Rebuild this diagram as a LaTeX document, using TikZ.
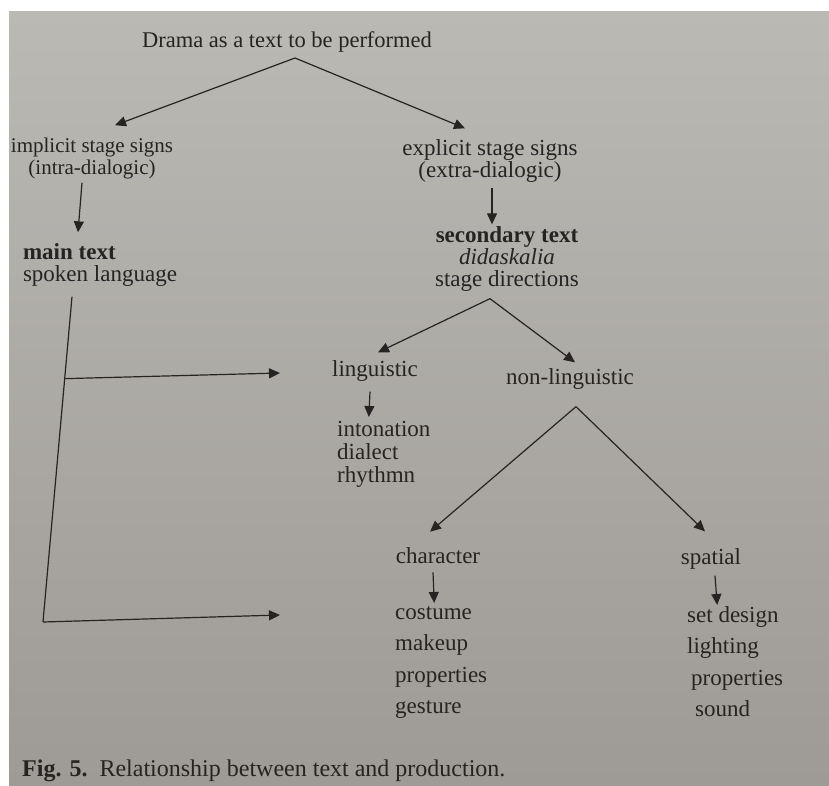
\documentclass[tikz,border=0pt]{standalone}
\usepackage{fontspec}
\setmainfont{Liberation Serif}
\usetikzlibrary{arrows.meta,positioning,calc}
\definecolor{inkcolor}{RGB}{38,36,34}
\definecolor{pagetop}{RGB}{186,185,180}
\definecolor{pagebot}{RGB}{158,154,150}
\tikzset{
  txt/.style={font=\fontsize{23}{22}\selectfont, text=inkcolor, inner sep=0pt},
  txtlist/.style={txt, align=left, anchor=north west, font=\fontsize{23}{31.5}\selectfont},
  arrln/.style={-{Triangle[length=11pt,width=10pt]}, line width=1.2pt, draw=inkcolor},
  plainln/.style={line width=1.2pt, draw=inkcolor},
}

\begin{document}
\begin{tikzpicture}[x=1pt, y=-1pt]
    % page of the photo
    \useasboundingbox (0,0) rectangle (829,786);
    \fill[white] (0,0) rectangle (829,786);
    \shade[top color=pagetop, bottom color=pagebot] (9,12) rectangle (829,786);

    \node[txt, font=\fontsize{22.5}{22}\selectfont] (drama) at (287,42) {Drama as a text to be performed};
    \coordinate (split1) at (295,58);

    \node[txt, align=center, font=\fontsize{21}{22}\selectfont] (impl) at (92,158) {implicit stage signs\\(intra-dialogic)};
    \node[txt, align=center] (expl) at (490,161) {explicit stage signs\\(extra-dialogic)};
    \draw[arrln] (split1) -- ([xshift=23pt,yshift=12pt]impl.north);
    \draw[arrln] (split1) -- ([xshift=-25pt,yshift=11pt]expl.north);

    \node[txt, align=left] (main) at (100,265) {\textbf{main text}\\spoken language};
    \node[txt, align=center] (sec) at (507,259) {\textbf{secondary text}\\\textit{didaskalia}\\stage directions};
    \draw[arrln] ([xshift=-10pt,yshift=-4pt]impl.south) -- ([xshift=-22pt,yshift=11pt]main.north);
    \draw[arrln] ([xshift=2pt,yshift=-5pt]expl.south) -- ([xshift=-15pt,yshift=2pt]sec.north);

    % stem from the main text
    \coordinate (stem) at ([xshift=-28pt,yshift=-10pt]main.south);
    \coordinate (foot) at (43,622);
    \coordinate (fork) at ($(stem)!0.252!(foot)$);
    \coordinate (ling-in) at (280,373);
    \coordinate (char-in) at (280,615);
    \draw[plainln] (stem) -- (foot);
    \draw[arrln] (fork) -- (ling-in);
    \draw[arrln] (foot) -- (char-in);

    \coordinate (split2) at ([xshift=-17pt,yshift=-7pt]sec.south);
    \node[txt] (ling) at (375,371) {linguistic};
    \node[txt] (nonling) at (570,379) {non-linguistic};
    \draw[arrln] (split2) -- ([xshift=3pt,yshift=8pt]ling.north);
    \draw[arrln] (split2) -- ([xshift=5pt,yshift=6pt]nonling.north);

    \node[txtlist, font=\fontsize{23}{23}\selectfont] (linglist) at (337,421) {intonation\\dialect\\rhythmn};
    \draw[arrln] ([xshift=-5pt,yshift=-10pt]ling.south) -- ([xshift=-15pt,yshift=4pt]linglist.north);

    \coordinate (split3) at ([xshift=6pt,yshift=-17pt]nonling.south);
    \node[txt] (char) at (438,556) {character};
    \node[txt] (spat) at (711,559) {spatial};
    \draw[arrln] (split3) -- ([xshift=-8pt,yshift=16pt]char.north);
    \draw[arrln] (split3) -- ([xshift=-6pt,yshift=17pt]spat.north);

    \node[txtlist] (charlist) at (395,606) {costume\\makeup\\properties\\gesture};
    \node[txtlist] (spatlist) at (687,606) {set design\\lighting\\\hspace{4pt}properties\\\hspace{8pt}sound};
    \draw[arrln] ([xshift=-5pt,yshift=-8pt]char.south) -- ([xshift=-7pt,yshift=3pt]charlist.north);
    \draw[arrln] ([xshift=4pt,yshift=-6pt]spat.south) -- ([xshift=-18pt,yshift=1pt]spatlist.north);

    \node[txt, anchor=west, font=\fontsize{24}{26}\selectfont] (caption) at (22,771) {\textbf{Fig. 5.}\ \ Relationship between text and production.};
\end{tikzpicture}
\end{document}
